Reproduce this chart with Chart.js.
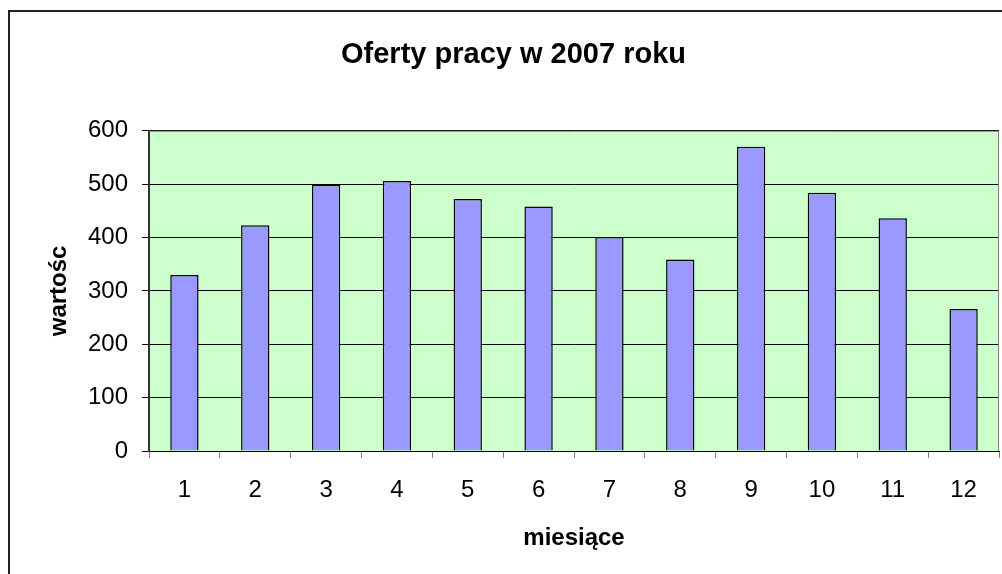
<!DOCTYPE html>
<html>
<head>
<meta charset="utf-8">
<title>Oferty pracy w 2007 roku</title>
<script src="https://cdn.jsdelivr.net/npm/chart.js@4.4.1/dist/chart.umd.min.js"></script>
<style>
    body { margin: 0; background: #fff; }
    #wrap { width: 1002px; height: 574px; }
</style>
</head>
<body>
<div id="wrap"><canvas id="bar-chart" width="1002" height="574"></canvas></div>
<script>
// dane z wykresu
var months = ["1", "2", "3", "4", "5", "6", "7", "8", "9", "10", "11", "12"];
var offers = [330, 423, 499, 506, 472, 458, 401, 359, 570, 484, 436, 266];
var yTicks = [0, 100, 200, 300, 400, 500, 600];

var fontName = "'Liberation Sans', Arial, sans-serif";

// tlo obszaru wykresu i ramki
var frame = {
    id: 'frame',
    beforeDraw: function (chart) {
        var ctx = chart.ctx, a = chart.chartArea;
        ctx.save();
        ctx.fillStyle = '#fff';
        ctx.fillRect(0, 0, chart.width, chart.height);
        ctx.fillStyle = '#CCFFCC';
        ctx.fillRect(a.left, a.top, a.right - a.left, a.bottom - a.top);
        ctx.restore();
    },
    afterDraw: function (chart) {
        var ctx = chart.ctx, a = chart.chartArea;
        ctx.save();
        ctx.strokeStyle = '#808080';
        ctx.lineWidth = 1;
        ctx.beginPath();
        ctx.moveTo(a.left, a.top + 0.5);
        ctx.lineTo(a.right - 0.5, a.top + 0.5);
        ctx.lineTo(a.right - 0.5, a.bottom);
        ctx.stroke();
        ctx.strokeStyle = '#222';
        ctx.lineWidth = 2;
        ctx.strokeRect(9, 11, 1100, 700);
        ctx.restore();
    }
};

new Chart(document.getElementById("bar-chart"), {
    type: 'bar',
    data: {
        labels: months,
        datasets: [
            {
                label: "Oferty",
                backgroundColor: "#9999FF",
                borderColor: "#000",
                borderWidth: 1.5,
                barPercentage: 0.4,
                categoryPercentage: 1.0,
                data: offers
            }
        ]
    },
    options: {
        responsive: false,
        animation: false,
        layout: {
            padding: { left: 28, right: 3, top: 0, bottom: 0 }
        },
        plugins: {
            legend: { display: false },
            tooltip: { enabled: false },
            title: {
                display: true,
                text: 'Oferty pracy w 2007 roku',
                color: '#000',
                font: { family: fontName, size: 29, weight: 'bold' },
                padding: { top: 38, bottom: 58 }
            }
        },
        scales: {
            x: {
                offset: true,
                grid: {
                    offset: true,
                    drawOnChartArea: false,
                    drawTicks: true,
                    tickLength: 7,
                    color: '#808080'
                },
                border: { color: '#000', width: 1 },
                ticks: {
                    color: '#000',
                    padding: 18,
                    maxRotation: 0,
                    font: { family: fontName, size: 24 }
                },
                title: {
                    display: true,
                    text: 'miesiące',
                    color: '#000',
                    font: { family: fontName, size: 24, weight: 'bold' },
                    padding: { top: 0, bottom: 21 }
                },
                afterFit: function (scale) { scale.height = 123; }
            },
            y: {
                min: 0,
                max: 600,
                afterBuildTicks: function (scale) {
                    scale.ticks = yTicks.map(function (v) { return { value: v }; });
                },
                grid: {
                    color: '#000',
                    lineWidth: 1,
                    tickLength: 7
                },
                border: { color: '#333', width: 2 },
                ticks: {
                    color: '#000',
                    padding: 14,
                    font: { family: fontName, size: 24 }
                },
                title: {
                    display: true,
                    text: 'wartośc',
                    color: '#000',
                    font: { family: fontName, size: 24, weight: 'bold' },
                    padding: { top: 17, bottom: 0 }
                },
                afterFit: function (scale) { scale.width = 121; }
            }
        }
    },
    plugins: [frame]
});
</script>
</body>
</html>
